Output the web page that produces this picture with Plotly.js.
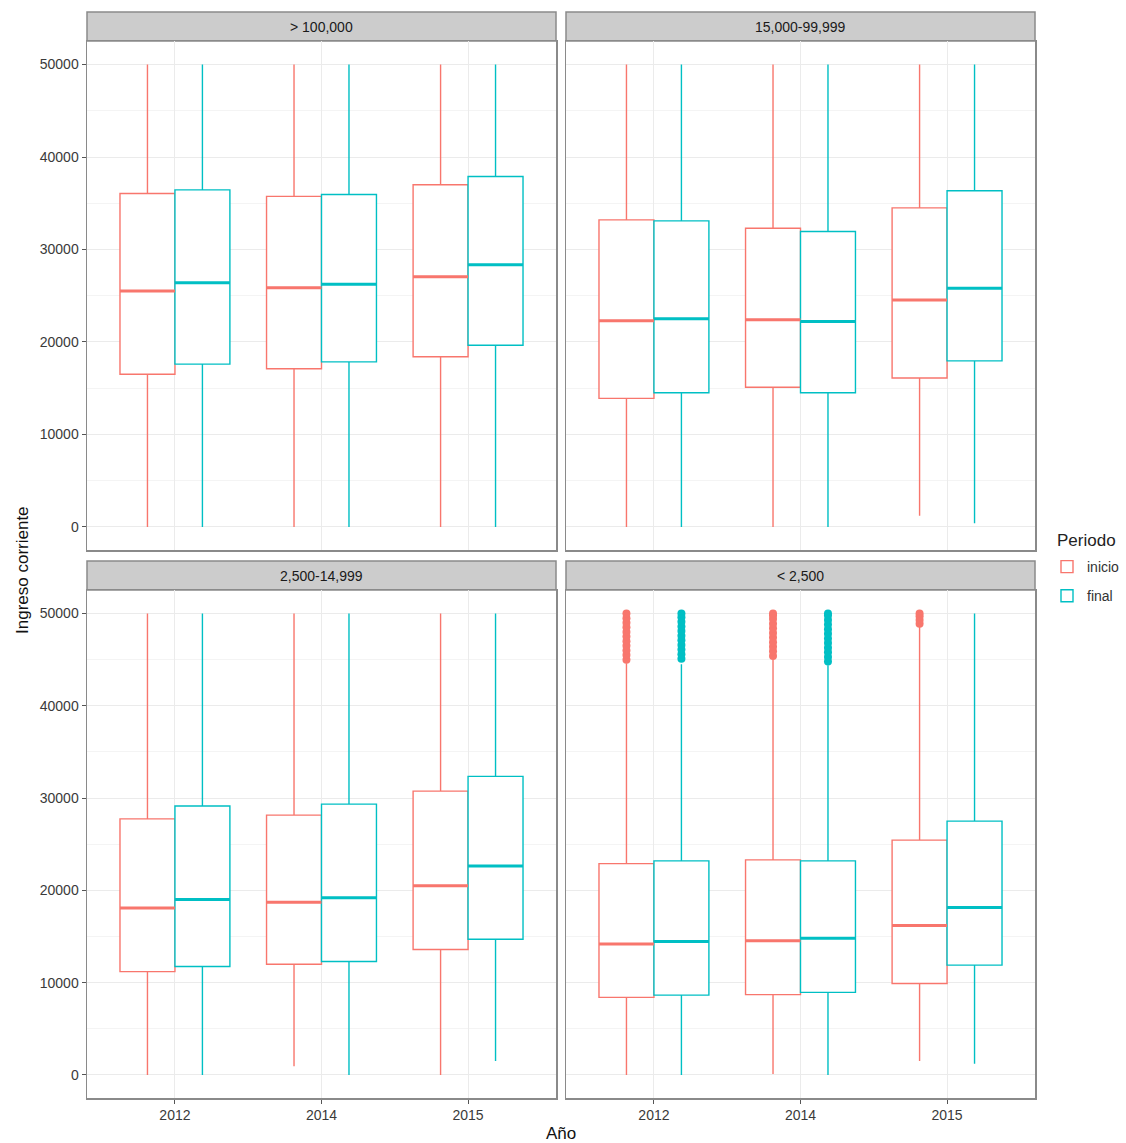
<!DOCTYPE html>
<html>
<head>
<meta charset="utf-8">
<script src="https://cdn.plot.ly/plotly-3.0.1.min.js"></script>
<style>html,body{margin:0;padding:0;background:#fff;overflow:hidden;width:1126px;height:1143px;}#chart{width:1126px;height:1143px;overflow:hidden;}</style>
</head>
<body>
<div id="chart"></div>
<script>
// ---- DATA ----
const years = ['2012', '2014', '2015'];
const panels = ['> 100,000', '15,000-99,999', '2,500-14,999', '< 2,500'];
const periods = ['inicio', 'final'];
const legendTitle = 'Periodo';

// per panel, per year (2012, 2014, 2015)
const inicioQ1  = [[16500, 17100, 18400], [13900, 15100, 16100], [11200, 12000, 13600], [8400, 8700, 9900]];
const inicioMed = [[25500, 25850, 27050], [22300, 22400, 24550], [18100, 18700, 20500], [14200, 14550, 16200]];
const inicioQ3  = [[36050, 35750, 37000], [33200, 32300, 34500], [27750, 28150, 30750], [22900, 23300, 25450]];
const inicioLo  = [[0, 0, 0], [0, 0, 1200], [0, 950, 0], [0, 100, 1500]];
const inicioHi  = [[50000, 50000, 50000], [50000, 50000, 50000], [50000, 50000, 50000], [44600, 45000, 48600]];

const finalQ1  = [[17600, 17850, 19650], [14500, 14500, 17950], [11750, 12300, 14700], [8650, 8950, 11900]];
const finalMed = [[26400, 26250, 28350], [22500, 22200, 25800], [19000, 19200, 22650], [14450, 14800, 18150]];
const finalQ3  = [[36450, 35950, 37900], [33100, 31950, 36350], [29150, 29350, 32350], [23200, 23200, 27500]];
const finalLo  = [[0, 0, 0], [0, 0, 400], [0, 0, 1500], [0, 0, 1200]];
const finalHi  = [[50000, 50000, 50000], [50000, 50000, 50000], [50000, 50000, 50000], [44500, 44400, 50000]];

// outliers (panel "< 2,500")
const outInicio2012 = [45000, 45500, 46000, 46500, 47000, 47500, 48000, 48500, 49000, 49500, 50000];
const outInicio2014 = [45400, 45900, 46400, 46900, 47400, 47900, 48400, 48900, 49400, 49800, 50000];
const outInicio2015 = [48900, 49300, 49700, 50000];
const outFinal2012  = [45100, 45600, 46100, 46600, 47100, 47600, 48100, 48600, 49100, 49600, 50000];
const outFinal2014  = [44800, 45300, 45800, 46300, 46800, 47300, 47800, 48300, 48800, 49300, 49800, 50000];

// ---- STYLE ----
const colors = {inicio: '#F8766D', final: '#00BFC4'};
const W = 1126, H = 1143;
const FONT = 'Liberation Sans, Arial, Helvetica, sans-serif';

const stats = {
  inicio: {q1: inicioQ1, med: inicioMed, q3: inicioQ3, lo: inicioLo, hi: inicioHi},
  final:  {q1: finalQ1,  med: finalMed,  q3: finalQ3,  lo: finalLo,  hi: finalHi}
};

const data = [];
const axSuffix = ['', '2', '3', '4'];
for (let p = 0; p < 4; p++) {
  const xa = 'x' + axSuffix[p], ya = 'y' + axSuffix[p];
  periods.forEach(per => {
    const s = stats[per];
    data.push({
      type: 'box', name: per, x: years, xaxis: xa, yaxis: ya,
      q1: s.q1[p], median: s.med[p], q3: s.q3[p],
      lowerfence: s.lo[p], upperfence: s.hi[p],
      offsetgroup: per, legendgroup: per, showlegend: p === 0,
      fillcolor: 'white', line: {color: colors[per], width: 1.4},
      whiskerwidth: 0, boxpoints: false, hoverinfo: 'skip'
    });
  });
  periods.forEach(per => {
    const s = stats[per];
    data.push({
      type: 'box', name: per, x: years, xaxis: xa, yaxis: ya,
      q1: s.med[p], median: s.med[p], q3: s.med[p],
      lowerfence: s.med[p], upperfence: s.med[p],
      offsetgroup: per, legendgroup: per, showlegend: false,
      fillcolor: 'rgba(0,0,0,0)', line: {color: colors[per], width: 3},
      whiskerwidth: 0, boxpoints: false, hoverinfo: 'skip'
    });
  });
}

// outliers in panel 4 as grouped scatter
function rep(cat, arr) { return arr.map(() => cat); }
data.push({
  type: 'scatter', mode: 'markers', name: 'inicio', xaxis: 'x4', yaxis: 'y4',
  x: rep('2012', outInicio2012).concat(rep('2014', outInicio2014), rep('2015', outInicio2015)),
  y: outInicio2012.concat(outInicio2014, outInicio2015),
  offsetgroup: 'inicio', legendgroup: 'inicio', showlegend: false, hoverinfo: 'skip',
  marker: {color: colors.inicio, size: 8}
});
data.push({
  type: 'scatter', mode: 'markers', name: 'final', xaxis: 'x4', yaxis: 'y4',
  x: rep('2012', outFinal2012).concat(rep('2014', outFinal2014)),
  y: outFinal2012.concat(outFinal2014),
  offsetgroup: 'final', legendgroup: 'final', showlegend: false, hoverinfo: 'skip',
  marker: {color: colors.final, size: 8}
});

// ---- LAYOUT ----
const colX = [[87 / W, 556 / W], [566 / W, 1035 / W]];
const rowY = [[1 - 550 / H, 1 - 41 / H], [1 - 1098 / H, 1 - 590 / H]];
const stripY = [[1 - 41 / H, 1 - 12 / H], [1 - 590 / H, 1 - 561 / H]];

const layout = {
  width: W, height: H, autosize: false,
  margin: {l: 0, r: 0, t: 0, b: 0, pad: 0, autoexpand: false},
  paper_bgcolor: 'white', plot_bgcolor: 'white',
  font: {family: FONT, color: '#333'},
  boxmode: 'group', boxgap: 0.25, boxgroupgap: 0,
  scattermode: 'group', scattergap: 0.25,
  showlegend: true,
  legend: {
    x: 1047 / W, y: 1 - 551 / H, xanchor: 'left', yanchor: 'top',
    font: {size: 14, color: '#333'}, bgcolor: 'rgba(0,0,0,0)',
    itemwidth: 30, traceorder: 'grouped', tracegroupgap: 8
  },
  shapes: [], annotations: []
};

for (let p = 0; p < 4; p++) {
  const r = Math.floor(p / 2), c = p % 2;
  const sfx = axSuffix[p];
  const bottom = r === 1, left = c === 0;
  layout['xaxis' + sfx] = {
    domain: colX[c], anchor: 'y' + sfx, type: 'category',
    categoryorder: 'array', categoryarray: years,
    range: [-0.6, 2.6], showgrid: true, gridcolor: '#ebebeb', gridwidth: 1,
    showline: true, mirror: true, linecolor: '#8a8a8a', linewidth: 1.5,
    ticks: bottom ? 'outside' : '', ticklen: 4, tickcolor: '#555',
    showticklabels: bottom, tickfont: {size: 14, color: '#3a3a3a'},
    zeroline: false, fixedrange: true, automargin: false
  };
  layout['yaxis' + sfx] = {
    domain: rowY[r], anchor: 'x' + sfx,
    range: [-2500, 52550], tickvals: [0, 10000, 20000, 30000, 40000, 50000],
    ticktext: ['0', '10000', '20000', '30000', '40000', '50000'],
    showgrid: true, gridcolor: '#ebebeb', gridwidth: 1,
    minor: {tickvals: [5000, 15000, 25000, 35000, 45000], showgrid: true, gridcolor: '#f4f4f4', gridwidth: 1, ticks: ''},
    showline: true, mirror: true, linecolor: '#8a8a8a', linewidth: 1.5,
    ticks: left ? 'outside' : '', ticklen: 4, tickcolor: '#555',
    showticklabels: left, tickfont: {size: 14, color: '#3a3a3a'},
    zeroline: false, fixedrange: true, automargin: false
  };
  layout.shapes.push({
    type: 'rect', xref: 'paper', yref: 'paper',
    x0: colX[c][0], x1: colX[c][1], y0: stripY[r][0], y1: stripY[r][1],
    fillcolor: '#cccccc', line: {color: '#8a8a8a', width: 1.5}, layer: 'below'
  });
  layout.annotations.push({
    xref: 'paper', yref: 'paper', showarrow: false,
    x: (colX[c][0] + colX[c][1]) / 2, y: (stripY[r][0] + stripY[r][1]) / 2,
    xanchor: 'center', yanchor: 'middle',
    text: panels[p], font: {size: 14, color: '#1a1a1a'}
  });
}

layout.annotations.push({
  xref: 'paper', yref: 'paper', showarrow: false,
  x: 1055 / W, y: 1 - 540 / H, xanchor: 'left', yanchor: 'middle',
  text: legendTitle, font: {size: 17, color: '#222'}
});
layout.annotations.push({
  xref: 'paper', yref: 'paper', showarrow: false,
  x: 561 / W, y: 1 - 1133 / H, xanchor: 'center', yanchor: 'middle',
  text: 'Año', font: {size: 17, color: '#111'}
});
layout.annotations.push({
  xref: 'paper', yref: 'paper', showarrow: false,
  x: 22 / W, y: 1 - 570 / H, xanchor: 'center', yanchor: 'middle',
  text: 'Ingreso corriente', textangle: -90, font: {size: 17, color: '#111'}
});

Plotly.newPlot('chart', data, layout, {staticPlot: true, displayModeBar: false});
</script>
</body>
</html>
